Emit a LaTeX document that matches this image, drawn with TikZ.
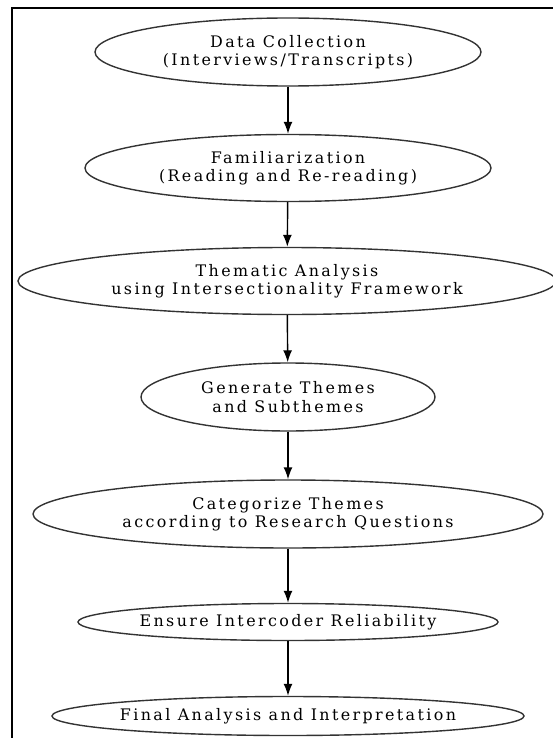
\documentclass[tikz,border=0pt]{standalone}
\usepackage{fontspec}
\setmainfont[LetterSpace=15]{DejaVu Serif}
\usetikzlibrary{arrows.meta,shapes.geometric}
\definecolor{edge}{RGB}{51,51,51}

\begin{document}
\begin{tikzpicture}[
    x=1pt, y=-1pt,
    stage/.style={ellipse, draw=edge, line width=1.4pt, inner sep=0pt},
    lbl/.style={align=center, font=\fontsize{15.9}{18.5}\selectfont, inner sep=0pt},
    flow/.style={-{Latex[length=12pt,width=9pt]}, line width=1.4pt}
]
    \useasboundingbox (0,0) rectangle (553,738);
    % frame (cut at the right and bottom)
    \draw[line width=2pt] (12,8) rectangle (570,760);

    % stages
    \node[stage, minimum width=386, minimum height=68,
          label={[lbl]center:Data Collection\\(Interviews/Transcripts)}] (collect) at (288,52) {};
    \node[stage, minimum width=406, minimum height=67,
          label={[lbl]center:Familiarization\\(Reading and Re-reading)}] (familiar) at (288,168) {};
    \node[stage, minimum width=538, minimum height=67,
          label={[lbl]center:Thematic Analysis\\using Intersectionality Framework}] (thematic) at (287,281) {};
    \node[stage, minimum width=294, minimum height=68,
          label={[lbl]center:Generate Themes\\and Subthemes}] (generate) at (288,397) {};
    \node[stage, minimum width=510, minimum height=68,
          label={[lbl]center:Categorize Themes\\according to Research Questions}] (categorize) at (288,514) {};
    \node[stage, minimum width=420, minimum height=37,
          label={[lbl]center:Ensure Intercoder Reliability}] (ensure) at (288,622) {};
    \node[stage, minimum width=472, minimum height=39,
          label={[lbl]center:Final Analysis and Interpretation}] (final) at (288,716) {};

    % flow
    \draw[flow] (collect) -- (familiar);
    \draw[flow] (familiar) -- (thematic);
    \draw[flow] (thematic) -- (generate);
    \draw[flow] (generate) -- (categorize);
    \draw[flow] (categorize) -- (ensure);
    \draw[flow] (ensure) -- (final);
\end{tikzpicture}
\end{document}
